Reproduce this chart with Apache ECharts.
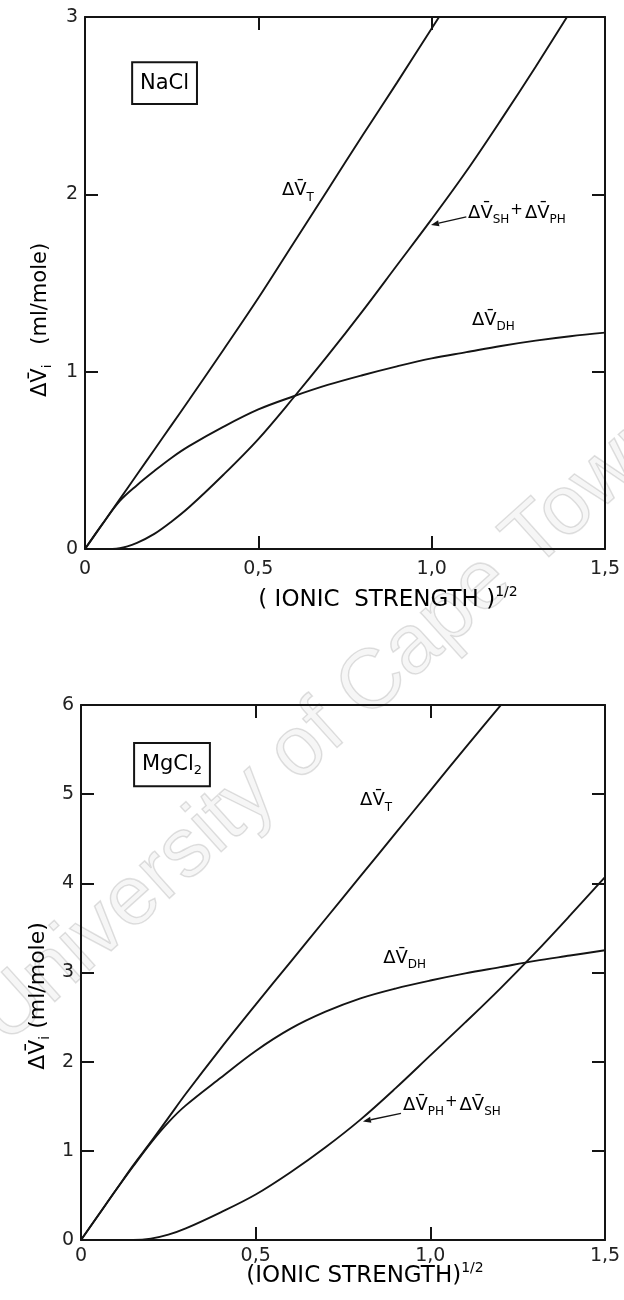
<!DOCTYPE html>
<html>
<head>
<meta charset="utf-8">
<script src="https://cdn.jsdelivr.net/npm/echarts@6/dist/echarts.min.js"></script>
<style>
  html, body { margin: 0; padding: 0; background: #fff; }
  #chart { width: 624px; height: 1300px; }
</style>
</head>
<body>
<div id="chart"></div>
<script>
// Abscissa: square root of ionic strength
const xValues = [0, 0.05, 0.1, 0.15, 0.2, 0.25, 0.3, 0.4, 0.5, 0.6, 0.7, 0.8, 0.9, 1.0, 1.1, 1.2, 1.3, 1.4, 1.5];

// NaCl partial molar volume contributions (ml/mole)
const naclDH   = [0, 0.14, 0.27, 0.36, 0.44, 0.515, 0.58, 0.69, 0.787, 0.86, 0.925, 0.98, 1.03, 1.075, 1.11, 1.145, 1.175, 1.20, 1.22];
const naclSHPH = [0, 0, 0.005, 0.035, 0.085, 0.155, 0.235, 0.42, 0.62, 0.85, 1.09, 1.34, 1.60, 1.86, 2.13, 2.42, 2.72, 3.03, 3.33];
const naclT    = [0, 0.14, 0.28, 0.42, 0.56, 0.70, 0.84, 1.125, 1.415, 1.72, 2.025, 2.33, 2.63, 2.935, 3.24];

// MgCl2 partial molar volume contributions (ml/mole)
const mgDH   = [0, 0.28, 0.56, 0.83, 1.09, 1.32, 1.51, 1.82, 2.12, 2.37, 2.56, 2.71, 2.82, 2.91, 2.99, 3.06, 3.13, 3.19, 3.25];
const mgPHSH = [0, 0, 0, 0, 0.015, 0.06, 0.13, 0.31, 0.51, 0.76, 1.04, 1.35, 1.70, 2.07, 2.44, 2.82, 3.22, 3.64, 4.07];
const mgT    = [0, 0.28, 0.56, 0.84, 1.10, 1.37, 1.64, 2.15, 2.64, 3.12, 3.60, 4.08, 4.56, 5.04, 5.52, 5.99, 6.45];

// Tick labels
const xTickLabels = ['0', '0,5', '1,0', '1,5'];
const naclYTickLabels = ['0', '1', '2', '3'];
const mgYTickLabels = ['0', '1', '2', '3', '4', '5', '6'];

const FONT = '"DejaVu Sans", "Liberation Sans", Arial, sans-serif';
const INK = '#141414';
const DV = '\u0394V\u0304';

function pairs(values) {
  return values.map((v, i) => [xValues[i], v]);
}

function xAxes(gridIndex) {
  const base = {
    type: 'value', gridIndex, min: 0, max: 1.5, interval: 0.5,
    axisLine: { show: true, onZero: false, lineStyle: { color: INK, width: 2 } },
    axisTick: { show: true, inside: true, length: 13, lineStyle: { color: INK, width: 2 } },
    splitLine: { show: false }
  };
  return [
    Object.assign({}, base, {
      position: 'bottom',
      axisLabel: {
        show: true, color: '#222', fontSize: 19, fontFamily: FONT,
        margin: gridIndex === 0 ? 11 : 7,
        formatter: v => xTickLabels[Math.round(v / 0.5)]
      }
    }),
    Object.assign({}, base, { position: 'top', axisLabel: { show: false } })
  ];
}

function yAxes(gridIndex, max, labels) {
  const base = {
    type: 'value', gridIndex, min: 0, max, interval: 1,
    axisLine: { show: true, onZero: false, lineStyle: { color: INK, width: 2 } },
    axisTick: { show: true, inside: true, length: 13, lineStyle: { color: INK, width: 2 } },
    splitLine: { show: false }
  };
  return [
    Object.assign({}, base, {
      position: 'left',
      axisLabel: {
        show: true, color: '#222', fontSize: 19, fontFamily: FONT, margin: 7,
        formatter: v => labels[Math.round(v)]
      }
    }),
    Object.assign({}, base, { position: 'right', axisLabel: { show: false } })
  ];
}

function curve(values, axisIdx) {
  return {
    type: 'line', xAxisIndex: axisIdx, yAxisIndex: axisIdx,
    data: pairs(values), symbol: 'none', showSymbol: false,
    smooth: 0.35, clip: true, silent: true,
    lineStyle: { color: INK, width: 1.9 }
  };
}

const chart = echarts.init(document.getElementById('chart'), null, { renderer: 'canvas' });

chart.setOption({
  animation: false,
  backgroundColor: '#ffffff',
  grid: [
    { left: 85, top: 17, width: 520, height: 532 },
    { left: 81, top: 705, width: 524, height: 535 }
  ],
  xAxis: [].concat(xAxes(0), xAxes(1)),
  yAxis: [].concat(yAxes(0, 3, naclYTickLabels), yAxes(1, 6, mgYTickLabels)),
  series: [
    curve(naclT, 0), curve(naclSHPH, 0), curve(naclDH, 0),
    curve(mgT, 2), curve(mgPHSH, 2), curve(mgDH, 2)
  ]
});

// ---- annotations (anchors given in data units of each panel) ----
const rich = {
  m: { fontSize: 18, fontFamily: FONT, color: INK },
  s: { fontSize: 12, fontFamily: FONT, color: INK, padding: [14, 0, 0, 0] },
  p: { fontSize: 15, fontFamily: FONT, color: INK, padding: [0, 2, 6, 1] },
  b: { fontSize: 21, fontFamily: FONT, color: INK },
  bs: { fontSize: 13, fontFamily: FONT, color: INK, padding: [12, 0, 0, 0] },
  t: { fontSize: 23, fontFamily: FONT, color: '#222' },
  ts: { fontSize: 14, fontFamily: FONT, color: '#222', padding: [0, 0, 15, 0] },
  ya: { fontSize: 21, fontFamily: FONT, color: '#222' },
  yas: { fontSize: 13, fontFamily: FONT, color: '#222', padding: [13, 0, 0, 0] },
  yb: { fontSize: 22, fontFamily: FONT, color: '#222' },
  ybs: { fontSize: 14, fontFamily: FONT, color: '#222', padding: [14, 0, 0, 0] }
};

const panels = [
  {
    axis: 0,
    box: { from: [0.136, 2.745], to: [0.323, 2.51], text: '{b|NaCl}' },
    labels: [
      { at: [0.568, 2.02], text: `{m|${DV}}{s|T}` },
      { at: [1.105, 1.895], text: `{m|${DV}}{s|SH}{p|+}{m|${DV}}{s|PH}` },
      { at: [1.116, 1.29], text: `{m|${DV}}{s|DH}` }
    ],
    arrow: { from: [1.1, 1.873], to: [0.998, 1.827] },
    xTitle: { x: 388, y: 600, text: '{t|( IONIC  STRENGTH )}{ts|1/2}' },
    yTitle: { x: 41, y: 320, text: `{ya|${DV}}{yas|i}{ya|   (ml/mole)}` }
  },
  {
    axis: 2,
    box: { from: [0.152, 5.574], to: [0.369, 5.09], text: '{b|MgCl}{bs|2}' },
    labels: [
      { at: [0.799, 4.93], text: `{m|${DV}}{s|T}` },
      { at: [0.865, 3.16], text: `{m|${DV}}{s|DH}` },
      { at: [0.922, 1.51], text: `{m|${DV}}{s|PH}{p|+}{m|${DV}}{s|SH}` }
    ],
    arrow: { from: [0.916, 1.42], to: [0.807, 1.33] },
    xTitle: { x: 365, y: 1276, text: '{t|(IONIC STRENGTH)}{ts|1/2}' },
    yTitle: { x: 38, y: 996, text: `{yb|${DV}}{ybs|i}{yb| (ml/mole)}` }
  }
];

function px(axis, pt) {
  return chart.convertToPixel({ xAxisIndex: axis, yAxisIndex: axis }, pt);
}

const graphics = [];

// faint diagonal watermark lettering behind the plots
graphics.push({
  type: 'text', x: 18, y: 1060, rotation: 42 * Math.PI / 180, z: -10, silent: true,
  style: {
    text: 'University of Cape Town', font: '84px "Liberation Sans", Arial, sans-serif',
    fill: 'rgba(0,0,0,0.035)', stroke: 'rgba(0,0,0,0.12)', lineWidth: 1.5,
    textAlign: 'left', textVerticalAlign: 'bottom', align: 'left', verticalAlign: 'bottom'
  }
});

panels.forEach(p => {
  const a = px(p.axis, p.box.from), b = px(p.axis, p.box.to);
  graphics.push({
    type: 'rect', z: 10, silent: true,
    shape: { x: a[0], y: a[1], width: b[0] - a[0], height: b[1] - a[1] },
    style: { fill: '#fff', stroke: INK, lineWidth: 2 }
  });
  graphics.push({
    type: 'text', z: 11, silent: true,
    x: (a[0] + b[0]) / 2, y: (a[1] + b[1]) / 2,
    style: { text: p.box.text, rich, textAlign: 'center', textVerticalAlign: 'middle', align: 'center', verticalAlign: 'middle' }
  });
  p.labels.forEach(l => {
    const q = px(p.axis, l.at);
    graphics.push({
      type: 'text', z: 11, silent: true, x: q[0], y: q[1],
      style: { text: l.text, rich, textAlign: 'left', textVerticalAlign: 'middle', align: 'left', verticalAlign: 'middle' }
    });
  });
  const f = px(p.axis, p.arrow.from), t = px(p.axis, p.arrow.to);
  const ang = Math.atan2(t[1] - f[1], t[0] - f[0]);
  const hl = 8, hw = 3;
  const bx = t[0] - hl * Math.cos(ang), by = t[1] - hl * Math.sin(ang);
  graphics.push({
    type: 'line', z: 11, silent: true,
    shape: { x1: f[0], y1: f[1], x2: bx, y2: by },
    style: { stroke: INK, lineWidth: 1.3 }
  });
  graphics.push({
    type: 'polygon', z: 11, silent: true,
    shape: { points: [
      [t[0], t[1]],
      [bx + hw * Math.sin(ang), by - hw * Math.cos(ang)],
      [bx - hw * Math.sin(ang), by + hw * Math.cos(ang)]
    ] },
    style: { fill: INK }
  });
  graphics.push({
    type: 'text', z: 11, silent: true, x: p.xTitle.x, y: p.xTitle.y,
    style: { text: p.xTitle.text, rich, textAlign: 'center', textVerticalAlign: 'middle', align: 'center', verticalAlign: 'middle' }
  });
  graphics.push({
    type: 'text', z: 11, silent: true, x: p.yTitle.x, y: p.yTitle.y, rotation: Math.PI / 2,
    style: { text: p.yTitle.text, rich, textAlign: 'center', textVerticalAlign: 'middle', align: 'center', verticalAlign: 'middle' }
  });
});

chart.setOption({ graphic: graphics });
</script>
</body>
</html>
